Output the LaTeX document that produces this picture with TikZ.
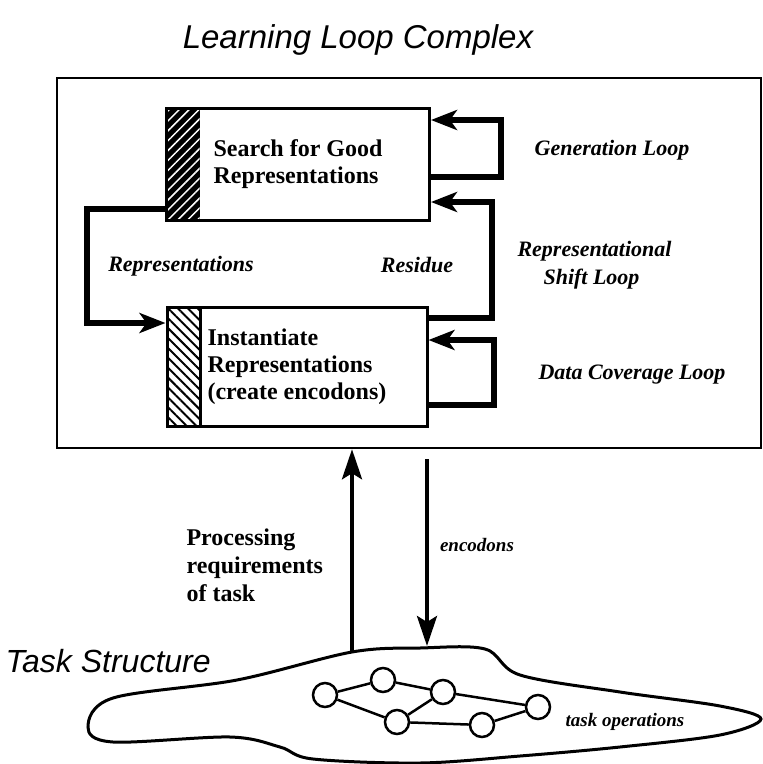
\documentclass[tikz,border=0pt]{standalone}
\usepackage{fontspec}
\setmainfont{Liberation Serif}
\newfontfamily\handfont{Liberation Sans}
\usetikzlibrary{arrows.meta, positioning, calc, patterns.meta}

\tikzset{
  procbox/.style={draw, line width=3pt, align=left, font=\fontsize{24}{27}\selectfont\bfseries},
  darkstrip/.style={path picture={
    \fill[black] (path picture bounding box.north west) rectangle ([xshift=33pt]path picture bounding box.south west);
    \fill[pattern={Lines[angle=45,distance=7pt,line width=1.5pt]}, pattern color=white]
      (path picture bounding box.north west) rectangle ([xshift=33pt]path picture bounding box.south west);
  }},
  lightstrip/.style={path picture={
    \fill[pattern={Lines[angle=-45,distance=7pt,line width=2pt]}, pattern color=black]
      (path picture bounding box.north west) rectangle ([xshift=33pt]path picture bounding box.south west);
    \draw[line width=3pt] ([xshift=33pt]path picture bounding box.north west) -- ([xshift=33pt]path picture bounding box.south west);
  }},
  loopline/.style={line width=6pt, -{Stealth[length=26pt,width=20pt,inset=7pt]}},
  looplabel/.style={font=\fontsize{22}{28}\selectfont\bfseries\itshape},
  flowline/.style={line width=4pt, -{Stealth[length=30pt,width=20pt,inset=6pt]}},
  taskop/.style={circle, draw, line width=2.5pt, minimum size=24pt, inner sep=0pt},
}

\begin{document}
\begin{tikzpicture}[x=1pt, y=-1pt]
  \useasboundingbox (0,0) rectangle (763,764);

  % learning loop complex
  \node[font=\handfont\itshape\fontsize{33}{36}\selectfont] (title) at (358,40) {Learning Loop Complex};
  \node[draw, line width=2.5pt, minimum width=704pt, minimum height=370pt] (complex) at (409,263) {};

  \node[procbox, darkstrip, minimum width=263pt, minimum height=112pt] (search) at (298,164) {Search for Good\\Representations};
  \node[procbox, lightstrip, minimum width=260pt, minimum height=119pt] (inst) at (297,367) {Instantiate\\Representations\\(create encodons)};

  % loops
  \draw[loopline] ([yshift=-13pt]search.east) -- ++(70,0) |- ([yshift=44pt]search.east);
  \draw[loopline] ([yshift=49pt]inst.east) -- ++(63,0) |- ([yshift=-38pt]search.east);
  \draw[loopline] ([yshift=-38pt]inst.east) -- ++(65,0) |- ([yshift=27pt]inst.east);
  \draw[loopline] ([yshift=-45pt]search.west) -- ++(-78,0) |- ([yshift=44pt]inst.west);

  \node[looplabel] (genlabel) at (612,150) {Generation Loop};
  \node[looplabel, align=left, anchor=west] (shiftlabel) at (514,265) {Representational\\\hspace*{26pt}Shift Loop};
  \node[looplabel] (datalabel) at (632,375) {Data Coverage Loop};
  \node[looplabel] (replabel) at (181,266) {Representations};
  \node[looplabel] (reslabel) at (417,265) {Residue};

  % task structure
  \draw[line width=3pt] plot[smooth cycle, tension=0.55] coordinates {
    (88,727) (113,698) (237,680) (352,652) (420,648) (485,649) (520,675) (620,692)
    (720,706) (761,719) (720,735) (620,747) (520,756) (420,763) (313,759) (280,747)
    (230,737) (113,742)};
  \node[font=\handfont\itshape\fontsize{32}{36}\selectfont, anchor=west] (tasklabel) at (2,661) {Task Structure};

  \coordinate (reqfoot) at (352,652);
  \coordinate (enctip) at (427,646);
  \draw[flowline] (reqfoot) -- (complex.south -| reqfoot);
  \draw[flowline] ($(complex.south -| enctip)+(0,10)$) -- (enctip);
  \node[font=\fontsize{24}{28}\selectfont\bfseries, align=left, anchor=west] (reqlabel) at (183,565) {Processing\\requirements\\of task};
  \node[font=\fontsize{19}{22}\selectfont\bfseries\itshape] (enclabel) at (477,545) {encodons};

  \node[taskop] (op1) at (325,695) {};
  \node[taskop] (op2) at (383,680) {};
  \node[taskop] (op3) at (443,692) {};
  \node[taskop] (op4) at (397,722) {};
  \node[taskop] (op5) at (482,725) {};
  \node[taskop] (op6) at (538,707) {};
  \draw[line width=2.5pt] (op1) -- (op2) -- (op3) -- (op6) -- (op5) -- (op4) -- (op1);
  \draw[line width=2.5pt] (op4) -- (op3);
  \node[font=\fontsize{19}{22}\selectfont\bfseries\itshape] (oplabel) at (625,722) {task operations};
\end{tikzpicture}
\end{document}
